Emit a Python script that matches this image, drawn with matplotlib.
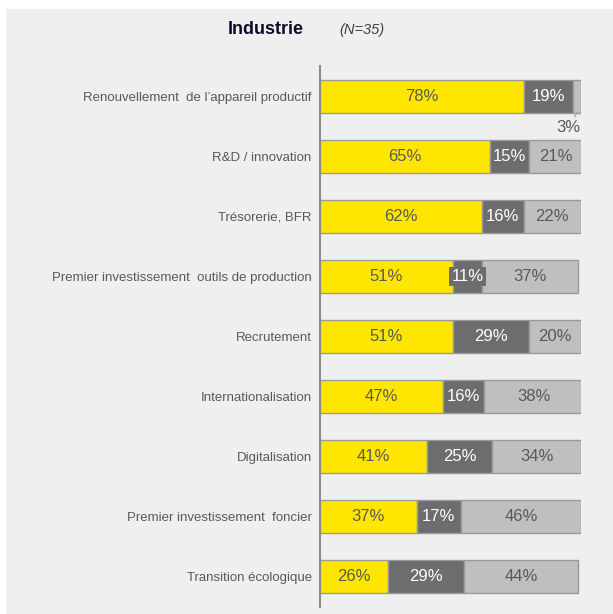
import matplotlib.pyplot as plt
from matplotlib.patches import Rectangle

plt.rcParams['font.family'] = ['Liberation Sans', 'DejaVu Sans']

categories = [
    "Renouvellement  de l\u2019appareil productif",
    "R&D / innovation",
    "Trésorerie, BFR",
    "Premier investissement  outils de production",
    "Recrutement",
    "Internationalisation",
    "Digitalisation",
    "Premier investissement  foncier",
    "Transition écologique",
]
yes_vals = [78, 65, 62, 51, 51, 47, 41, 37, 26]
mid_vals = [19, 15, 16, 11, 29, 16, 25, 17, 29]
no_vals = [3, 21, 22, 37, 20, 38, 34, 46, 44]

YELLOW = "#FFE600"
DARK = "#6d6d6f"
LIGHT = "#bfbfbf"
EDGE = "#9a9a9a"
BG = "#efefef"

W, H = 613, 614
fig = plt.figure(figsize=(W / 100, H / 100), dpi=100, facecolor="white")
fig.patches.append(Rectangle((6 / W, 0), 1 - 6 / W, 1 - 9 / H, transform=fig.transFigure,
                             facecolor=BG, edgecolor="none", zorder=-10))

# axes: x 320..581 px, y 66..607 px
ax = fig.add_axes([320 / W, 1 - 607 / H, 261 / W, 541 / H])
ax.set_facecolor("none")
ax.set_xlim(0, 100)
ax.set_ylim(len(categories) - 0.5, -0.5)

y = list(range(len(categories)))
h = 0.55
left2 = [a for a in yes_vals]
left3 = [a + b for a, b in zip(yes_vals, mid_vals)]
ax.barh(y, yes_vals, height=h, color=YELLOW, edgecolor=EDGE, linewidth=1)
ax.barh(y, mid_vals, left=left2, height=h, color=DARK, edgecolor=EDGE, linewidth=1)
ax.barh(y, no_vals, left=left3, height=h, color=LIGHT, edgecolor=EDGE, linewidth=1)

for i in y:
    ax.text(yes_vals[i] / 2, i, f"{yes_vals[i]}%", ha="center", va="center",
            fontsize=12, color="#595959")
    if mid_vals[i] <= 11:
        ax.text(left2[i] + mid_vals[i] / 2, i, f"{mid_vals[i]}%", ha="center", va="center",
                fontsize=12, color="white",
                bbox=dict(boxstyle="square,pad=0.12", facecolor=DARK, edgecolor="none"))
    else:
        ax.text(left2[i] + mid_vals[i] / 2, i, f"{mid_vals[i]}%", ha="center", va="center",
                fontsize=12, color="white")
    if no_vals[i] >= 10:
        ax.text(left3[i] + no_vals[i] / 2, i, f"{no_vals[i]}%", ha="center", va="center",
                fontsize=12, color="#595959")
    else:
        xe = left3[i] + no_vals[i] / 2
        ax.annotate(f"{no_vals[i]}%", xy=(xe, i + h / 2), xytext=(95.3, i + 0.52),
                    ha="center", va="center", fontsize=12, color="#595959",
                    arrowprops=dict(arrowstyle="-", color="#a0a0a0", lw=0.8,
                                    shrinkA=6, shrinkB=0),
                    annotation_clip=False)

ax.set_yticks(y)
ax.set_yticklabels(categories, fontsize=9.5, color="#595959")
ax.tick_params(axis="y", length=0, pad=6)
ax.set_xticks([])
for s in ["top", "right", "bottom"]:
    ax.spines[s].set_visible(False)
ax.spines["left"].set_color("#8c8c8c")
ax.spines["left"].set_linewidth(1.5)

fig.text(266 / W, 1 - 29 / H, "Industrie", ha="center", va="center", fontsize=13,
         fontweight="bold", color="#0d0d2b")
fig.text(362 / W, 1 - 30 / H, "(N=35)", ha="center", va="center", fontsize=10.5,
         style="italic", color="#404040")

fig.savefig("out.png", dpi=100, facecolor=fig.get_facecolor())
